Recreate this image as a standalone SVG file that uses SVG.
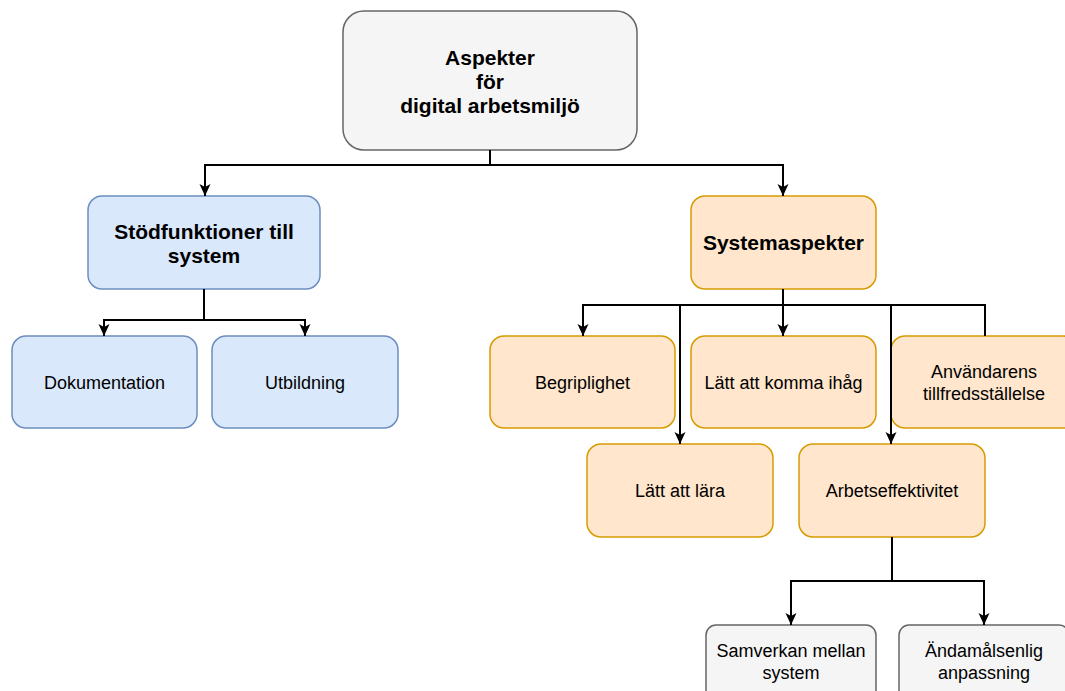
<svg xmlns="http://www.w3.org/2000/svg" width="1065" height="691" viewBox="0 0 1065 691">
<style>
.gray{fill:#f5f5f5;stroke:#666666;stroke-width:1.5}
.blue{fill:#dae8fc;stroke:#6c8ebf;stroke-width:1.5}
.orange{fill:#ffe6cc;stroke:#d79b00;stroke-width:1.5}
text{font-family:"Liberation Sans",Arial,Helvetica,sans-serif;fill:#000;text-anchor:middle}
.b{font-size:21px;font-weight:bold}
.r{font-size:18px}
.edge{fill:none;stroke:#000;stroke-width:2}
.arr{marker-end:url(#arrow)}
</style>
<defs>
<marker id="arrow" viewBox="0 0 12 12" refX="12" refY="6" markerWidth="12" markerHeight="12" markerUnits="userSpaceOnUse" orient="auto">
<path d="M0,0.5 L12,6 L0,11.5 L3,6 Z" fill="#000"/>
</marker>
</defs>
<rect width="1065" height="691" fill="#ffffff"/>
<g id="node-top">
<rect class="gray" x="343" y="11" width="294" height="139" rx="21"/>
<text class="b" x="490" y="65">Aspekter</text>
<text class="b" x="490" y="89">för</text>
<text class="b" x="490" y="113">digital arbetsmiljö</text>
</g>
<g id="node-stod">
<rect class="blue" x="88" y="196" width="232" height="93" rx="14"/>
<text class="b" x="204" y="239">Stödfunktioner till</text>
<text class="b" x="204" y="263">system</text>
</g>
<g id="node-system">
<rect class="orange" x="691" y="196" width="185" height="93" rx="14"/>
<text class="b" x="783.5" y="250">Systemaspekter</text>
</g>
<g id="node-dok">
<rect class="blue" x="12" y="336" width="185" height="92" rx="14"/>
<text class="r" x="104.5" y="389">Dokumentation</text>
</g>
<g id="node-utb">
<rect class="blue" x="212" y="336" width="186" height="92" rx="14"/>
<text class="r" x="305" y="389">Utbildning</text>
</g>
<g id="node-begrip">
<rect class="orange" x="490" y="336" width="185" height="92" rx="14"/>
<text class="r" x="582.5" y="389">Begriplighet</text>
</g>
<g id="node-komma">
<rect class="orange" x="691" y="336" width="185" height="92" rx="14"/>
<text class="r" x="783.5" y="389">Lätt att komma ihåg</text>
</g>
<g id="node-anv">
<rect class="orange" x="891" y="336" width="186" height="92" rx="14"/>
<text class="r" x="984" y="378">Användarens</text>
<text class="r" x="984" y="400">tillfredsställelse</text>
</g>
<g id="node-lara">
<rect class="orange" x="587" y="444" width="186" height="93" rx="14"/>
<text class="r" x="680" y="497">Lätt att lära</text>
</g>
<g id="node-arb">
<rect class="orange" x="799" y="444" width="186" height="93" rx="14"/>
<text class="r" x="892" y="497">Arbetseffektivitet</text>
</g>
<g id="node-samverkan">
<rect class="gray" x="706" y="625" width="170" height="92" rx="10"/>
<text class="r" x="791" y="657">Samverkan mellan</text>
<text class="r" x="791" y="679">system</text>
</g>
<g id="node-andamal">
<rect class="gray" x="899" y="625" width="170" height="92" rx="10"/>
<text class="r" x="984" y="657">Ändamålsenlig</text>
<text class="r" x="984" y="679">anpassning</text>
</g>
<g id="connectors">
<path class="edge arr" d="M490,150 V165 H205 V196"/>
<path class="edge arr" d="M490,165 H783 V196"/>
<path class="edge arr" d="M204,289 V320 H104 V336"/>
<path class="edge arr" d="M204,320 H305 V336"/>
<path class="edge arr" d="M783,289 V305 H583 V336"/>
<path class="edge arr" d="M783,305 H680 V444"/>
<path class="edge arr" d="M783,289 V336"/>
<path class="edge arr" d="M783,305 H891 V444"/>
<path class="edge" d="M783,305 H985 V336"/>
<path class="edge arr" d="M892,537 V581 H791 V625"/>
<path class="edge arr" d="M892,581 H984 V625"/>
</g>
</svg>
